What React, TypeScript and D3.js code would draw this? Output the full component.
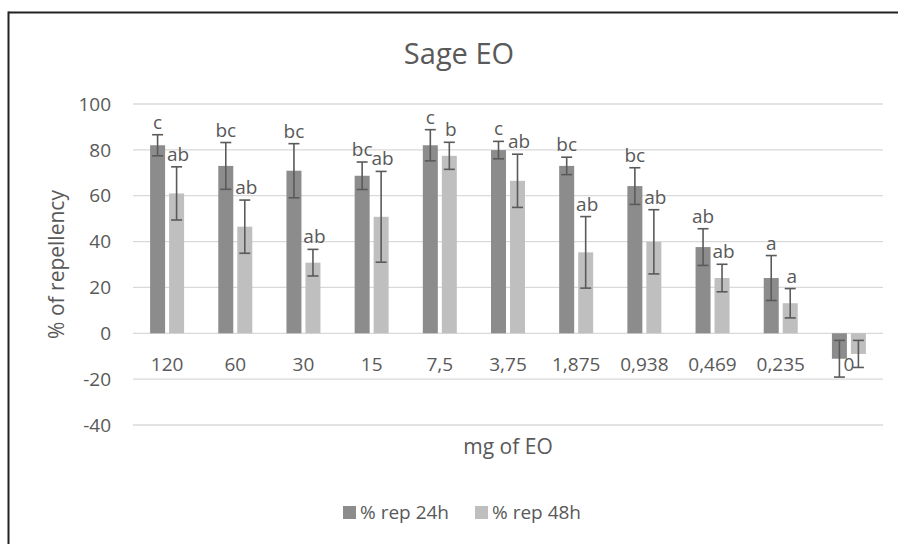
import React from "react";
import * as d3 from "d3";

const categories = ["120", "60", "30", "15", "7,5", "3,75", "1,875", "0,938", "0,469", "0,235", "0"];
const rep24 = [82.0, 73.0, 70.9, 68.7, 82.0, 79.9, 73.0, 64.2, 37.6, 24.1, -11.1];
const err24 = [4.6, 10.2, 11.8, 6.0, 6.8, 3.8, 3.8, 8.0, 8.0, 9.8, 8.0];
const rep48 = [61.0, 46.5, 30.8, 50.8, 77.4, 66.5, 35.3, 39.9, 24.1, 13.1, -9.0];
const err48 = [11.6, 11.6, 5.8, 19.8, 5.9, 11.6, 15.6, 14.0, 6.0, 6.4, 5.9];
const letters24 = ["c", "bc", "bc", "bc", "c", "c", "bc", "bc", "ab", "a", ""];
const letters48 = ["ab", "ab", "ab", "ab", "b", "ab", "ab", "ab", "ab", "a", ""];
const yTicks = [-40, -20, 0, 20, 40, 60, 80, 100];
const seriesNames = ["% rep 24h", "% rep 48h"];

const W = 898;
const H = 544;
const FONT = "'Open Sans', sans-serif";
const TXT = "#595959";
const COLORS = ["#8c8c8c", "#bfbfbf"];

export default function App() {
  const x = d3.scaleBand<string>().domain(categories).range([133, 883]).padding(0);
  const xs = d3
    .scaleBand<string>()
    .domain(["a", "b"])
    .range([0, x.bandwidth()])
    .paddingInner(0.21)
    .paddingOuter(0.9);
  const y = d3.scaleLinear().domain([-40, 100]).range([425, 104]);

  const series = [
    { key: "a", vals: rep24, errs: err24, letters: letters24, color: COLORS[0] },
    { key: "b", vals: rep48, errs: err48, letters: letters48, color: COLORS[1] },
  ];
  const bw = xs.bandwidth();

  return (
    <svg
      width={W}
      height={H}
      style={{ position: "absolute", left: 0, top: 0, background: "#fff" }}
      fontFamily={FONT}
    >
      <rect x={0} y={0} width={W} height={H} fill="#fff" />
      <line x1={8.5} x2={W} y1={12.5} y2={12.5} stroke="#222" strokeWidth={2} />
      <line x1={8.5} x2={8.5} y1={11.5} y2={H} stroke="#222" strokeWidth={2} />
      {/* gridlines */}
      {yTicks.map((t) => (
        <line key={t} x1={133} x2={883} y1={y(t)} y2={y(t)} stroke="#d9d9d9" strokeWidth={1.3} />
      ))}
      {yTicks.map((t) => (
        <text key={"l" + t} x={111} y={y(t)} dy="0.35em" textAnchor="end" fontSize={19} fill={TXT}>
          {t}
        </text>
      ))}
      {/* bars */}
      {series.map((s) =>
        categories.map((c, i) => {
          const v = s.vals[i];
          const bx = (x(c) as number) + (xs(s.key) as number);
          return (
            <rect
              key={s.key + c}
              x={bx}
              width={bw}
              y={Math.min(y(v), y(0))}
              height={Math.abs(y(v) - y(0))}
              fill={s.color}
            />
          );
        })
      )}
      {/* category labels */}
      {categories.map((c) => (
        <text
          key={"c" + c}
          x={(x(c) as number) + x.bandwidth() / 2}
          y={371}
          textAnchor="middle"
          fontSize={19}
          fill={TXT}
        >
          {c}
        </text>
      ))}
      {/* error bars */}
      {series.map((s) =>
        categories.map((c, i) => {
          const v = s.vals[i];
          const e = s.errs[i];
          const cx = (x(c) as number) + (xs(s.key) as number) + bw / 2;
          const y1 = y(v + e);
          const y2 = y(v - e);
          return (
            <g key={"e" + s.key + c} stroke="#5a5a5a" strokeWidth={1.6}>
              <line x1={cx} x2={cx} y1={y1} y2={y2} />
              <line x1={cx - 5.5} x2={cx + 5.5} y1={y1} y2={y1} />
              <line x1={cx - 5.5} x2={cx + 5.5} y1={y2} y2={y2} />
            </g>
          );
        })
      )}
      {/* letters */}
      {series.map((s) =>
        categories.map((c, i) => {
          const v = s.vals[i];
          const e = s.errs[i];
          const cx = (x(c) as number) + (xs(s.key) as number) + bw / 2;
          return (
            <text
              key={"t" + s.key + c}
              x={cx + (s.key === "b" ? 1.5 : 0)}
              y={y(v + e) - 6}
              textAnchor="middle"
              fontSize={19}
              fill={TXT}
            >
              {s.letters[i]}
            </text>
          );
        })
      )}
      {/* titles */}
      <text x={459} y={64} textAnchor="middle" fontSize={29} fill={TXT}>
        Sage EO
      </text>
      <text
        transform={`translate(64,${(y(-40) + y(100)) / 2}) rotate(-90)`}
        textAnchor="middle"
        fontSize={21}
        fill={TXT}
      >
        % of repellency
      </text>
      <text x={508} y={454} textAnchor="middle" fontSize={21} fill={TXT}>
        mg of EO
      </text>
      {/* legend */}
      {seriesNames.map((n, i) => (
        <g key={n} transform={`translate(${343 + i * 132},506)`}>
          <rect x={0} y={0} width={13} height={13} fill={COLORS[i]} />
          <text x={17} y={13} fontSize={19} fill={TXT}>
            {n}
          </text>
        </g>
      ))}
    </svg>
  );
}
